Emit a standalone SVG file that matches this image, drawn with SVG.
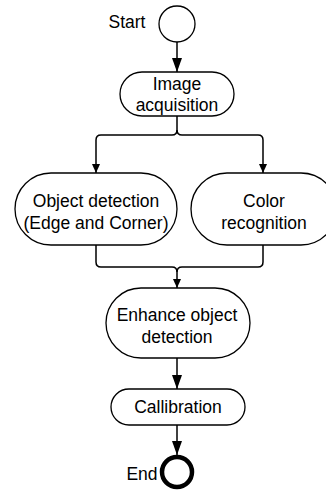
<svg xmlns="http://www.w3.org/2000/svg" width="326" height="490" viewBox="0 0 326 490">
  <style>
    .node { fill: #ffffff; stroke: #000000; stroke-width: 1.3; }
    .label { font-family: "Liberation Sans", Arial, sans-serif; font-size: 17.5px; fill: #000000; text-anchor: middle; }
    .edge { fill: none; stroke: #000000; stroke-width: 1.5; }
  </style>
  <defs>
    <marker id="arrow-lg" viewBox="0 0 14 10" refX="14" refY="5" markerWidth="14" markerHeight="10" markerUnits="userSpaceOnUse" orient="auto">
      <path d="M0 0 L14 5 L0 10 Z" fill="#000000"/>
    </marker>
    <marker id="arrow-sm" viewBox="0 0 9 8" refX="9" refY="4" markerWidth="9" markerHeight="8" markerUnits="userSpaceOnUse" orient="auto">
      <path d="M0 0 L9 4 L0 8 Z" fill="#000000"/>
    </marker>
  </defs>

  <g id="connectors">
    <path class="edge" d="M177 42 V72" marker-end="url(#arrow-lg)"/>
    <path class="edge" d="M177 116 V130 Q177 135 172 135 H101 Q96 135 96 140 V173" marker-end="url(#arrow-sm)"/>
    <path class="edge" d="M177 130 Q177 135 182 135 H258 Q263 135 263 140 V173" marker-end="url(#arrow-sm)"/>
    <path class="edge" d="M96 245 V262 Q96 267 101 267 H172 Q177 267 177 272 V288" marker-end="url(#arrow-sm)"/>
    <path class="edge" d="M263 245 V262 Q263 267 258 267 H182 Q177 267 177 272"/>
    <path class="edge" d="M177 358 V389" marker-end="url(#arrow-lg)"/>
    <path class="edge" d="M177 425 V455" marker-end="url(#arrow-lg)"/>
  </g>

  <g id="start">
    <circle cx="177" cy="24" r="18" fill="#ffffff" stroke="#000000" stroke-width="1.3"/>
    <text class="label" x="127" y="28">Start</text>
  </g>

  <g id="image-acquisition">
    <rect class="node" x="120" y="72" width="114" height="44" rx="22"/>
    <text class="label" x="177" y="90">Image</text>
    <text class="label" x="177" y="111">acquisition</text>
  </g>

  <g id="object-detection">
    <rect class="node" x="15" y="173" width="162" height="72" rx="36"/>
    <text class="label" x="96" y="207">Object detection</text>
    <text class="label" x="96" y="229">(Edge and Corner)</text>
  </g>

  <g id="color-recognition">
    <rect class="node" x="191" y="173" width="146" height="72" rx="36"/>
    <text class="label" x="264" y="207">Color</text>
    <text class="label" x="264" y="229">recognition</text>
  </g>

  <g id="enhance-detection">
    <rect class="node" x="106" y="288" width="144" height="70" rx="35"/>
    <text class="label" x="177" y="321">Enhance object</text>
    <text class="label" x="177" y="343">detection</text>
  </g>

  <g id="callibration">
    <rect class="node" x="111" y="389" width="134" height="36" rx="18"/>
    <text class="label" x="178" y="413">Callibration</text>
  </g>

  <g id="end">
    <circle cx="177" cy="472" r="15" fill="#ffffff" stroke="#000000" stroke-width="4.5"/>
    <text class="label" x="142" y="480">End</text>
  </g>
</svg>
